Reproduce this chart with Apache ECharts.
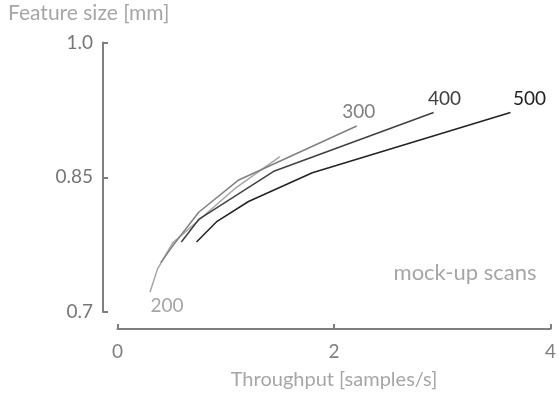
<!DOCTYPE html>
<html>
<head>
<meta charset="utf-8">
<script src="https://cdn.jsdelivr.net/npm/echarts@6/dist/echarts.min.js"></script>
<style>
  html, body { margin: 0; padding: 0; background: #ffffff; }
  #chart { width: 559px; height: 395px; }
</style>
</head>
<body>
<div id="chart"></div>
<script>
// Axis ticks
const xTickValues = [0, 2, 4];
const yTickValues = [0.7, 0.85, 1.0];
const yTickLabels = ['0.7', '0.85', '1.0'];

// One curve per setting: throughput [samples/s] vs feature size [mm]
const seriesNames = ['200', '300', '400', '500'];
const throughput200 = [0.30, 0.37, 0.51, 0.74, 1.09, 1.50];
const size200       = [0.722, 0.748, 0.777, 0.801, 0.838, 0.873];
const throughput300 = [0.40, 0.50, 0.75, 1.12, 2.21];
const size300       = [0.755, 0.772, 0.811, 0.847, 0.907];
const throughput400 = [0.59, 0.75, 1.45, 2.92];
const size400       = [0.778, 0.803, 0.857, 0.922];
const throughput500 = [0.73, 0.92, 1.21, 1.80, 3.63];
const size500       = [0.778, 0.801, 0.823, 0.855, 0.922];

const FONT = 'Lato';
const AXIS_GREY = '#7f7f7f';

function pairs(xs, ys) { return xs.map((x, i) => [x, ys[i]]); }

// Attach the curve's name to either its first or its last point
function withNameLabel(points, atStart, color, offset) {
  return points.map((p, i) => {
    const isTarget = atStart ? i === 0 : i === points.length - 1;
    if (!isTarget) return p;
    return {
      value: p,
      label: {
        show: true,
        position: atStart ? 'bottom' : 'top',
        distance: 4,
        offset: offset,
        formatter: '{a}',
        color: color,
        fontFamily: FONT,
        fontSize: 19
      }
    };
  });
}

const curves = [
  { name: seriesNames[0], pts: pairs(throughput200, size200), color: '#a6a6a6', atStart: true,  offset: [17, 0] },
  { name: seriesNames[1], pts: pairs(throughput300, size300), color: '#808080', atStart: false, offset: [2, 0] },
  { name: seriesNames[2], pts: pairs(throughput400, size400), color: '#404040', atStart: false, offset: [11, 0] },
  { name: seriesNames[3], pts: pairs(throughput500, size500), color: '#222222', atStart: false, offset: [19, 0] }
];

const chart = echarts.init(document.getElementById('chart'), null, { renderer: 'canvas' });

chart.setOption({
  animation: false,
  backgroundColor: '#ffffff',
  grid: { left: 117.5, top: 42.5, width: 438.5, height: 270.5, containLabel: false },
  xAxis: {
    type: 'value',
    min: xTickValues[0],
    max: xTickValues[xTickValues.length - 1],
    interval: xTickValues[1] - xTickValues[0],
    offset: 17,
    name: 'Throughput [samples/s]',
    nameLocation: 'middle',
    nameGap: 41,
    nameTextStyle: { color: '#a6a6a6', fontFamily: FONT, fontSize: 20 },
    axisLine: { show: true, onZero: false, lineStyle: { color: AXIS_GREY, width: 2 } },
    axisTick: { show: true, inside: true, length: 5, lineStyle: { color: AXIS_GREY, width: 2 } },
    axisLabel: { color: '#808080', fontFamily: FONT, fontSize: 19, margin: 13 },
    splitLine: { show: false }
  },
  yAxis: {
    type: 'value',
    min: yTickValues[0],
    max: yTickValues[yTickValues.length - 1],
    interval: yTickValues[1] - yTickValues[0],
    offset: 14.5,
    axisLine: { show: true, onZero: false, lineStyle: { color: AXIS_GREY, width: 2 } },
    axisTick: { show: true, inside: true, length: 5, lineStyle: { color: AXIS_GREY, width: 2 } },
    axisLabel: {
      color: '#767676', fontFamily: FONT, fontSize: 19, margin: 10,
      formatter: v => {
        let best = 0;
        yTickValues.forEach((t, i) => { if (Math.abs(t - v) < Math.abs(yTickValues[best] - v)) best = i; });
        return yTickLabels[best];
      }
    },
    splitLine: { show: false }
  },
  graphic: [
    {
      type: 'text', left: 8, top: 3,
      style: { text: 'Feature size [mm]', fill: '#a6a6a6', font: '21px ' + FONT }
    },
    {
      type: 'text', x: 465, y: 273,
      style: { text: 'mock-up scans', fill: '#a6a6a6', font: '22px ' + FONT, textAlign: 'center', textVerticalAlign: 'middle' }
    }
  ],
  series: curves.map(c => ({
    name: c.name,
    type: 'line',
    showSymbol: true,
    symbol: 'circle',
    symbolSize: 1,
    itemStyle: { color: 'rgba(0,0,0,0)', borderWidth: 0 },
    lineStyle: { color: c.color, width: 1.5 },
    data: withNameLabel(c.pts, c.atStart, c.color, c.offset),
    z: 2
  }))
});
</script>
</body>
</html>
